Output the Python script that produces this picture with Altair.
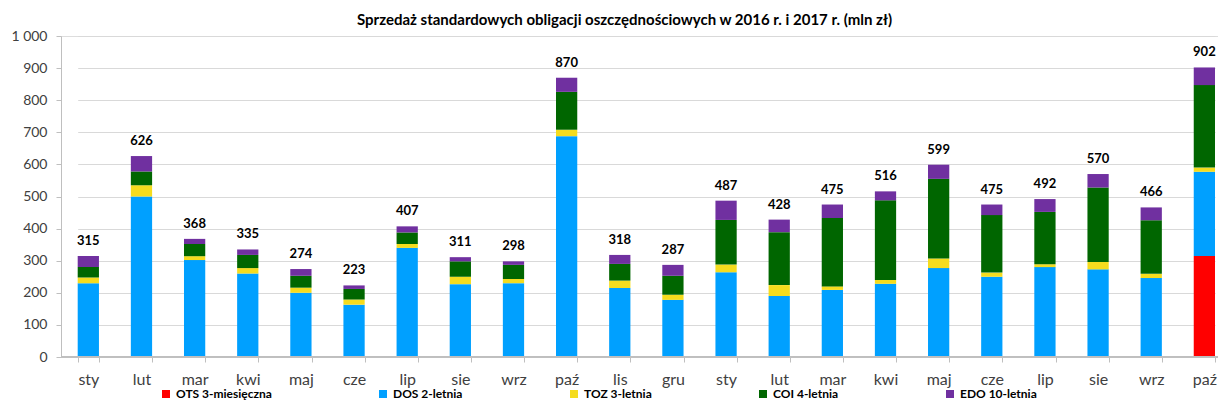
import altair as alt
import pandas as pd

months = ["sty", "lut", "mar", "kwi", "maj", "cze", "lip", "sie", "wrz", "paź", "lis", "gru",
          "sty", "lut", "mar", "kwi", "maj", "cze", "lip", "sie", "wrz", "paź"]
years = [2016] * 12 + [2017] * 10
series = ["OTS 3-miesięczna", "DOS 2-letnia", "TOZ 3-letnia", "COI 4-letnia", "EDO 10-letnia"]
colors = ["#FF0000", "#00A0FF", "#F5DC1E", "#006600", "#7030A0"]

ots = [0] * 21 + [315]
dos = [230, 500, 302, 260, 200, 163, 340, 227, 230, 688, 215, 178,
       264, 190, 209, 228, 277, 250, 280, 273, 246, 262]
toz = [18, 35, 12, 17, 16, 16, 12, 23, 13, 20, 23, 16,
       24, 34, 11, 12, 30, 13, 9, 23, 13, 13]
coi = [32, 43, 38, 41, 37, 33, 36, 48, 44, 118, 52, 59,
       139, 165, 213, 248, 248, 179, 163, 232, 167, 257]
edo = [35, 48, 16, 17, 21, 11, 19, 13, 11, 44, 28, 34,
       60, 39, 42, 28, 44, 33, 40, 42, 40, 55]
totals = [315, 626, 368, 335, 274, 223, 407, 311, 298, 870, 318, 287,
          487, 428, 475, 516, 599, 475, 492, 570, 466, 902]
y_ticks = [0, 100, 200, 300, 400, 500, 600, 700, 800, 900, 1000]

title_text = "Sprzedaż standardowych obligacji oszczędnościowych w 2016 r. i 2017 r. (mln zł)"

cats = [f"{m} {y}" for m, y in zip(months, years)]
rows = []
for i, c in enumerate(cats):
    for s_idx, (name, vals) in enumerate(zip(series, [ots, dos, toz, coi, edo])):
        if vals[i] > 0:
            rows.append({"cat": c, "series": name, "order": s_idx, "value": vals[i]})
df = pd.DataFrame(rows)
tot_df = pd.DataFrame({"cat": cats, "total": totals})

FONT = "Lato"
W, H = 1157, 321

x_scale = alt.Scale(range=[16.7, 1154], paddingInner=0.6, paddingOuter=0)
x_axis = alt.Axis(
    title=None, labelAngle=0, labelExpr="split(datum.label, ' ')[0]",
    tickBand="extent", tickSize=5, tickColor="#BFBFBF", domain=False,
    labelFontSize=16, labelFont=FONT, labelColor="#404040", labelPadding=9,
    grid=False,
)
y_scale = alt.Scale(domain=[0, 1000], nice=False)
y_axis = alt.Axis(
    title=None, values=y_ticks, tickCount=len(y_ticks), labelOverlap=False,
    labelExpr="replace(format(datum.value, ','), ',', ' ')",
    labelFontSize=14, labelFont=FONT, labelColor="#404040",
    tickSize=5, tickColor="#BFBFBF", domainColor="#BFBFBF",
    labelPadding=9, grid=True, gridColor="#D9D9D9", gridWidth=1,
)

bars = alt.Chart(df).mark_bar().encode(
    x=alt.X("cat:N", sort=cats, scale=x_scale, axis=x_axis),
    y=alt.Y("value:Q", stack="zero", scale=y_scale, axis=y_axis),
    color=alt.Color(
        "series:N",
        scale=alt.Scale(domain=series, range=colors),
        legend=alt.Legend(
            title=None, orient="none", legendX=99, legendY=352,
            direction="horizontal", columns=5, columnPadding=105,
            symbolType="square", symbolSize=64, symbolStrokeWidth=0,
            labelFont=FONT, labelFontSize=12, labelFontWeight="bold",
            labelColor="#000000", labelOffset=4, padding=0,
        ),
    ),
    order=alt.Order("order:Q", sort="ascending"),
)

labels = alt.Chart(tot_df).mark_text(
    font=FONT, fontSize=13, fontWeight="bold", color="#000000",
    baseline="alphabetic", align="center", dy=-11,
).encode(
    x=alt.X("cat:N", sort=cats, scale=x_scale, axis=x_axis),
    y=alt.Y("total:Q", scale=y_scale, axis=y_axis),
    text=alt.Text("total:Q"),
)

baseline = alt.Chart(tot_df).mark_rule(color="#BFBFBF", strokeWidth=1).encode(
    y=alt.datum(0)
)

chart = alt.layer(bars, baseline, labels).properties(
    width=W, height=H,
    title=alt.TitleParams(
        text=title_text, font=FONT, fontSize=15, fontWeight="bold",
        color="#000000", anchor="middle", offset=1, dx=-15,
    ),
    autosize=alt.AutoSizeParams(type="none"),
    padding={"top": 28, "left": 53, "right": 0, "bottom": 43},
).configure_view(stroke=None).configure(background="white")

chart.save("out.html", embed_options={"renderer": "svg", "actions": False})
